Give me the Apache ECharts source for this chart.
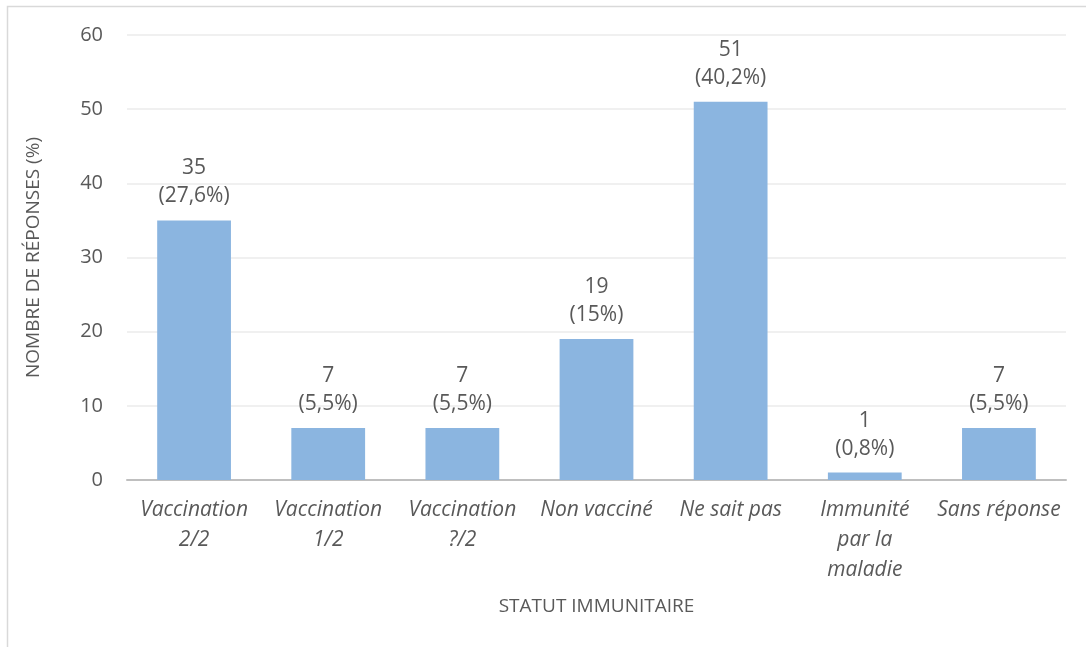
<!DOCTYPE html>
<html>
<head>
<meta charset="utf-8">
<script src="https://cdn.jsdelivr.net/npm/echarts@6/dist/echarts.min.js"></script>
<style>
  html, body { margin: 0; padding: 0; background: #fff; }
  #chart { width: 1086px; height: 647px; }
</style>
</head>
<body>
<div id="chart"></div>
<script>
const categories = ['Vaccination\n2/2', 'Vaccination\n1/2', 'Vaccination\n?/2', 'Non vacciné', 'Ne sait pas', 'Immunité\npar la\nmaladie', 'Sans réponse'];
const values = [35, 7, 7, 19, 51, 1, 7];
const percents = ['27,6%', '5,5%', '5,5%', '15%', '40,2%', '0,8%', '5,5%'];
const yTicks = { min: 0, max: 60, interval: 10 };

const chart = echarts.init(document.getElementById('chart'));
const textColor = '#595959';
const font = '"Open Sans", sans-serif';

chart.setOption({
    animation: false,
    textStyle: { fontFamily: font },
    graphic: [{
        type: 'rect',
        shape: { x: 7.5, y: 6.5, width: 1200, height: 800 },
        style: { fill: 'none', stroke: '#D9D9D9', lineWidth: 1.5 },
        silent: true
    }],
    grid: { left: 127, right: 20, top: 35, bottom: 167 },
    xAxis: {
        type: 'category',
        data: categories,
        name: 'STATUT IMMUNITAIRE',
        nameLocation: 'middle',
        nameGap: 117,
        nameTextStyle: { color: textColor, fontSize: 19, fontFamily: font },
        axisLine: { lineStyle: { color: '#BFBFBF', width: 2 } },
        axisTick: { show: false },
        axisLabel: {
            color: textColor,
            fontSize: 21,
            fontStyle: 'italic',
            fontFamily: font,
            lineHeight: 30,
            margin: 15,
            interval: 0
        }
    },
    yAxis: {
        type: 'value',
        min: yTicks.min,
        max: yTicks.max,
        interval: yTicks.interval,
        name: 'NOMBRE DE RÉPONSES (%)',
        nameLocation: 'middle',
        nameGap: 84,
        nameTextStyle: { color: textColor, fontSize: 19, fontFamily: font },
        axisLine: { show: false },
        axisTick: { show: false },
        axisLabel: { color: textColor, fontSize: 20, fontFamily: font, margin: 24 },
        splitLine: { lineStyle: { color: '#EBEBEB', width: 1.5 } }
    },
    series: [{
        type: 'bar',
        data: values,
        barWidth: '55%',
        itemStyle: { color: '#8BB5E0' },
        label: {
            show: true,
            position: 'top',
            distance: 10,
            color: textColor,
            fontSize: 21,
            fontFamily: font,
            lineHeight: 28,
            formatter: p => `${p.value}\n(${percents[p.dataIndex]})`
        }
    }]
});
</script>
</body>
</html>
